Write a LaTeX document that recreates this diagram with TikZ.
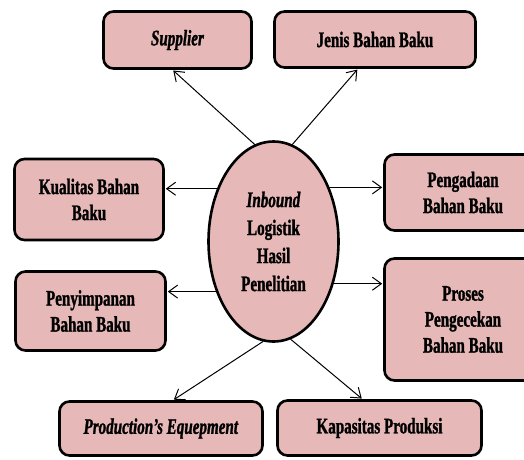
\documentclass[tikz,border=0pt]{standalone}
\usepackage{fontspec}
\setmainfont{Liberation Serif}[FakeStretch=0.68,BoldFeatures={FakeBold=1.2},BoldItalicFeatures={FakeBold=1.2}]
\usetikzlibrary{arrows.meta,shapes.geometric}
\definecolor{merahmuda}{HTML}{E6B8B7}
\tikzset{kotak/.style={draw,line width=2.6pt,rounded corners=10pt,fill=merahmuda,align=center,inner sep=0pt,
  font=\fontsize{22.2}{26}\selectfont\bfseries},
  elips/.style={draw,ellipse,line width=2.6pt,fill=merahmuda,align=center,inner sep=0pt,
  minimum width=130pt,minimum height=200pt,font=\fontsize{22.2}{28}\selectfont\bfseries}}
\begin{document}
\begin{tikzpicture}[x=1pt,y=-1pt,line join=round,line cap=round,>={Straight Barb[length=9pt,width=13pt]}]
\clip (0,0) rectangle (524,459);
\node[elips] (hsl) at (273.5,241.5) {\textit{Inbound}\\Logistik\\Hasil\\Penelitian};
\node[kotak,minimum width=148pt,minimum height=57pt] (sup) at (177.5,40) {\textit{Supplier}};
\node[kotak,minimum width=201pt,minimum height=56pt] (jns) at (375,39.5) {Jenis Bahan Baku};
\node[kotak,minimum width=149pt,minimum height=81pt] (kul) at (89,199.5) {Kualitas Bahan\\Baku};
\node[kotak,minimum width=157pt,minimum height=76pt] (pgd) at (463,192.5) {Pengadaan\\Bahan Baku};
\node[kotak,minimum width=150pt,minimum height=79pt] (pny) at (90.5,311) {Penyimpanan\\Bahan Baku};
\node[kotak,minimum width=157pt,minimum height=122pt] (prs) at (463,319.5) {Proses\\Pengecekan\\Bahan Baku};
\node[kotak,minimum width=203pt,minimum height=54pt] (prd) at (161,428.5) {\textit{Production's Equepment}};
\node[kotak,minimum width=204pt,minimum height=55pt] (kap) at (379.5,428) {Kapasitas Produksi};
\begin{scope}[line width=1pt,shorten >=1pt]
\draw[->] (hsl.101)--([xshift=-5pt]sup.south);
\draw[->] (hsl.79)--([xshift=-17pt]jns.south);
\draw[->] (hsl.137)--(kul.east|-hsl.137);
\draw[->] (hsl.44)--(pgd.west|-hsl.44);
\draw[->] (hsl.221)--(pny.east|-hsl.221);
\draw[->] (hsl.325)--(prs.west|-hsl.325);
\draw[->] (hsl.264)--([xshift=12pt]prd.north);
\draw[->] (hsl.280)--([xshift=-17pt]kap.north);
\end{scope}
\end{tikzpicture}
\end{document}
